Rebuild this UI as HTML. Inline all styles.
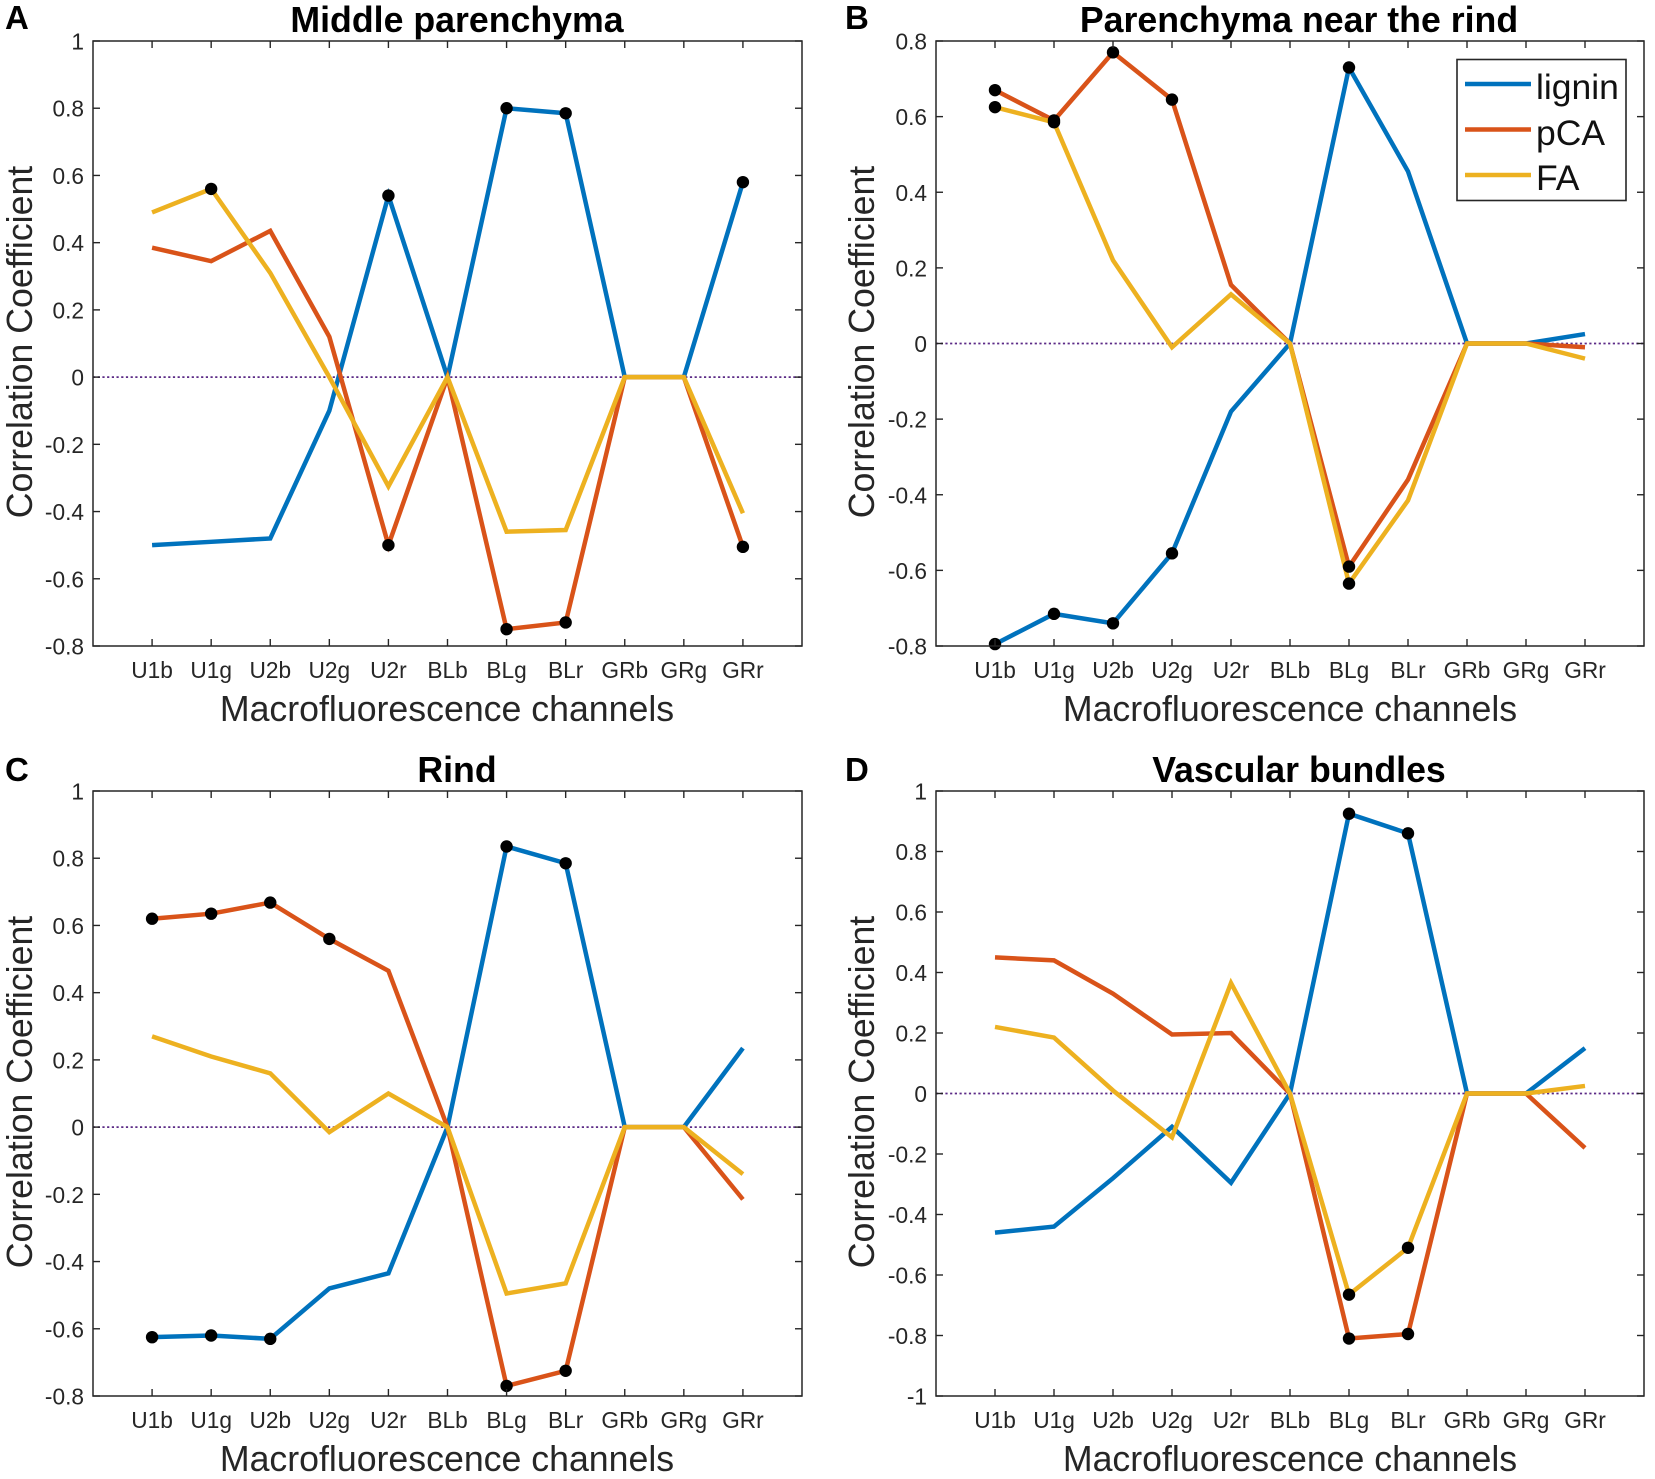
<!DOCTYPE html>
<html lang="en">
<head>
<meta charset="utf-8">
<title>Correlation coefficients by macrofluorescence channel</title>
<style>
html,body{margin:0;padding:0;background:#fff;}
#figure{display:block;width:1655px;height:1479px;font-family:"Liberation Sans",sans-serif;}
.panel-letter{font-size:33px;font-weight:bold;fill:#000;}
.panel-title{font-size:35.7px;font-weight:bold;fill:#000;text-anchor:middle;}
.axis-label{font-size:35.7px;fill:#262626;text-anchor:middle;}
.tick-label{font-size:22.7px;fill:#262626;}
.legend-text{font-size:35.5px;fill:#111;}
</style>
</head>
<body>
<svg id="figure" xmlns="http://www.w3.org/2000/svg" width="1655" height="1479" viewBox="0 0 1655 1479">
  <rect x="0" y="0" width="1655" height="1479" fill="#fff"/>

  <g id="panel-a"></g>
  <g id="panel-b"></g>
  <g id="panel-c"></g>
  <g id="panel-d"></g>

  <text class="panel-letter" x="5" y="29">A</text>
  <text class="panel-letter" x="845" y="29">B</text>
  <text class="panel-letter" x="5" y="781">C</text>
  <text class="panel-letter" x="845" y="781">D</text>

  <text class="panel-title" x="457" y="32">Middle parenchyma</text>
  <text class="panel-title" x="1299" y="32">Parenchyma near the rind</text>
  <text class="panel-title" x="457" y="782">Rind</text>
  <text class="panel-title" x="1299" y="782">Vascular bundles</text>

  <text class="axis-label" x="447" y="721">Macrofluorescence channels</text>
  <text class="axis-label" x="1290" y="721">Macrofluorescence channels</text>
  <text class="axis-label" x="447" y="1471">Macrofluorescence channels</text>
  <text class="axis-label" x="1290" y="1471">Macrofluorescence channels</text>

  <text class="axis-label" transform="translate(32,342) rotate(-90)">Correlation Coefficient</text>
  <text class="axis-label" transform="translate(874,342) rotate(-90)">Correlation Coefficient</text>
  <text class="axis-label" transform="translate(32,1092) rotate(-90)">Correlation Coefficient</text>
  <text class="axis-label" transform="translate(874,1092) rotate(-90)">Correlation Coefficient</text>

  <g id="legend">
    <rect x="1457" y="59.5" width="169" height="141" fill="#fff" stroke="#262626" stroke-width="1.6"/>
    <line x1="1465" x2="1531" y1="84" y2="84" stroke="#0072BD" stroke-width="4.5"/>
    <line x1="1465" x2="1531" y1="129.5" y2="129.5" stroke="#D95319" stroke-width="4.5"/>
    <line x1="1465" x2="1531" y1="175" y2="175" stroke="#EDB120" stroke-width="4.5"/>
    <text class="legend-text" x="1536" y="99">lignin</text>
    <text class="legend-text" x="1536" y="145">pCA</text>
    <text class="legend-text" x="1536" y="190">FA</text>
  </g>
</svg>

<script>
// Shared categories
const channels = ["U1b","U1g","U2b","U2g","U2r","BLb","BLg","BLr","GRb","GRg","GRr"];

// Y tick values per panel
const ticksA = [-0.8,-0.6,-0.4,-0.2,0,0.2,0.4,0.6,0.8,1];
const ticksB = [-0.8,-0.6,-0.4,-0.2,0,0.2,0.4,0.6,0.8];
const ticksC = [-0.8,-0.6,-0.4,-0.2,0,0.2,0.4,0.6,0.8,1];
const ticksD = [-1,-0.8,-0.6,-0.4,-0.2,0,0.2,0.4,0.6,0.8,1];

// Panel A: Middle parenchyma
const ligninA = [-0.50,-0.49,-0.48,-0.10,0.54,0,0.80,0.785,0,0,0.58];
const pcaA    = [0.385,0.345,0.435,0.12,-0.50,0,-0.75,-0.73,0,0,-0.505];
const faA     = [0.49,0.56,0.31,0.0,-0.325,0,-0.46,-0.455,0,0,-0.405];
const ligninSigA = ["U2r","BLg","BLr","GRr"];
const pcaSigA    = ["U2r","BLg","BLr","GRr"];
const faSigA     = ["U1g"];

// Panel B: Parenchyma near the rind
const ligninB = [-0.795,-0.715,-0.74,-0.555,-0.18,0,0.73,0.455,0,0,0.025];
const pcaB    = [0.67,0.59,0.77,0.645,0.155,0,-0.59,-0.36,0,0,-0.01];
const faB     = [0.625,0.585,0.22,-0.01,0.13,0,-0.635,-0.415,0,0,-0.04];
const ligninSigB = ["U1b","U1g","U2b","U2g","BLg"];
const pcaSigB    = ["U1b","U1g","U2b","U2g","BLg"];
const faSigB     = ["U1b","U1g","BLg"];

// Panel C: Rind
const ligninC = [-0.625,-0.62,-0.63,-0.48,-0.435,0,0.835,0.785,0,0,0.235];
const pcaC    = [0.62,0.635,0.668,0.56,0.465,0,-0.77,-0.725,0,0,-0.215];
const faC     = [0.27,0.21,0.16,-0.015,0.10,0,-0.495,-0.465,0,0,-0.14];
const ligninSigC = ["U1b","U1g","U2b","BLg","BLr"];
const pcaSigC    = ["U1b","U1g","U2b","U2g","BLg","BLr"];
const faSigC     = [];

// Panel D: Vascular bundles
const ligninD = [-0.46,-0.44,-0.28,-0.11,-0.295,0,0.925,0.86,0,0,0.15];
const pcaD    = [0.45,0.44,0.33,0.195,0.20,0,-0.81,-0.795,0,0,-0.18];
const faD     = [0.22,0.185,0.01,-0.145,0.365,0,-0.665,-0.51,0,0,0.025];
const ligninSigD = ["BLg","BLr"];
const pcaSigD    = ["BLg","BLr"];
const faSigD     = ["BLg","BLr"];

const SVGNS = "http://www.w3.org/2000/svg";
const AXIS_COLOR = "#262626";
const SERIES_COLORS = {lignin:"#0072BD", pca:"#D95319", fa:"#EDB120"};

function make(tag, parent, attrs) {
  const node = document.createElementNS(SVGNS, tag);
  for (const key in attrs) node.setAttribute(key, attrs[key]);
  parent.appendChild(node);
  return node;
}

function drawPanel(id, box, ticks, series) {
  const root = document.getElementById("panel-" + id);
  const yMin = ticks[0];
  const yMax = ticks[ticks.length - 1];
  const xScale = i => box.left + (i + 1) * (box.right - box.left) / (channels.length + 1);
  const yScale = v => box.bottom - (v - yMin) * (box.bottom - box.top) / (yMax - yMin);

  // Zero reference line
  const zero = make("line", root, {x1:box.left, x2:box.right, y1:yScale(0), y2:yScale(0), stroke:"#5b2a86", "stroke-width":1.8, "stroke-dasharray":"2.2 2.5"});
  
  

  // Series lines
  series.forEach(s => {
    const pts = s.values.map((v, i) => xScale(i).toFixed(2) + "," + yScale(v).toFixed(2)).join(" ");
    const line = make("polyline", root, {points:pts, fill:"none", stroke:SERIES_COLORS[s.key], "stroke-width":4.5, "stroke-linejoin":"miter"});
    
    
  });

  // Significance markers
  series.forEach(s => {
    s.sig.forEach(channel => {
      const i = channels.indexOf(channel);
      const dot = make("circle", root, {cx:xScale(i), cy:yScale(s.values[i]), r:6.2, fill:"#000"});
      
      
    });
  });

  // Axes box
  const frame = make("rect", root, {x:box.left, y:box.top, width:box.right - box.left, height:box.bottom - box.top, fill:"none", stroke:AXIS_COLOR, "stroke-width":1.5});
  
  

  // X ticks and labels
  channels.forEach((name, i) => {
    const x = xScale(i);
    const tickB = make("line", root, {x1:x, x2:x, y1:box.bottom, y2:box.bottom - 7, stroke:AXIS_COLOR, "stroke-width":1.4});
    
    
    const tickT = make("line", root, {x1:x, x2:x, y1:box.top, y2:box.top + 7, stroke:AXIS_COLOR, "stroke-width":1.4});
    
    
    const label = make("text", root, {x:x, y:box.bottom + 32, "text-anchor":"middle", class:"tick-label"});
    label.textContent = name;
    
    
  });

  // Y ticks and labels
  ticks.forEach(v => {
    const y = yScale(v);
    const tickL = make("line", root, {x1:box.left, x2:box.left + 7, y1:y, y2:y, stroke:AXIS_COLOR, "stroke-width":1.4});
    
    
    const tickR = make("line", root, {x1:box.right, x2:box.right - 7, y1:y, y2:y, stroke:AXIS_COLOR, "stroke-width":1.4});
    
    
    const label = make("text", root, {x:box.left - 9, y:y + 8.5, "text-anchor":"end", class:"tick-label"});
    label.textContent = String(v);
    
    
  });
}

drawPanel("a", {left:93, right:802, top:41, bottom:646}, ticksA, [
  {key:"lignin", values:ligninA, sig:ligninSigA},
  {key:"pca", values:pcaA, sig:pcaSigA},
  {key:"fa", values:faA, sig:faSigA}
]);
drawPanel("b", {left:936, right:1644, top:41, bottom:646}, ticksB, [
  {key:"lignin", values:ligninB, sig:ligninSigB},
  {key:"pca", values:pcaB, sig:pcaSigB},
  {key:"fa", values:faB, sig:faSigB}
]);
drawPanel("c", {left:93, right:802, top:791, bottom:1396}, ticksC, [
  {key:"lignin", values:ligninC, sig:ligninSigC},
  {key:"pca", values:pcaC, sig:pcaSigC},
  {key:"fa", values:faC, sig:faSigC}
]);
drawPanel("d", {left:936, right:1644, top:791, bottom:1396}, ticksD, [
  {key:"lignin", values:ligninD, sig:ligninSigD},
  {key:"pca", values:pcaD, sig:pcaSigD},
  {key:"fa", values:faD, sig:faSigD}
]);
</script>
</body>
</html>
